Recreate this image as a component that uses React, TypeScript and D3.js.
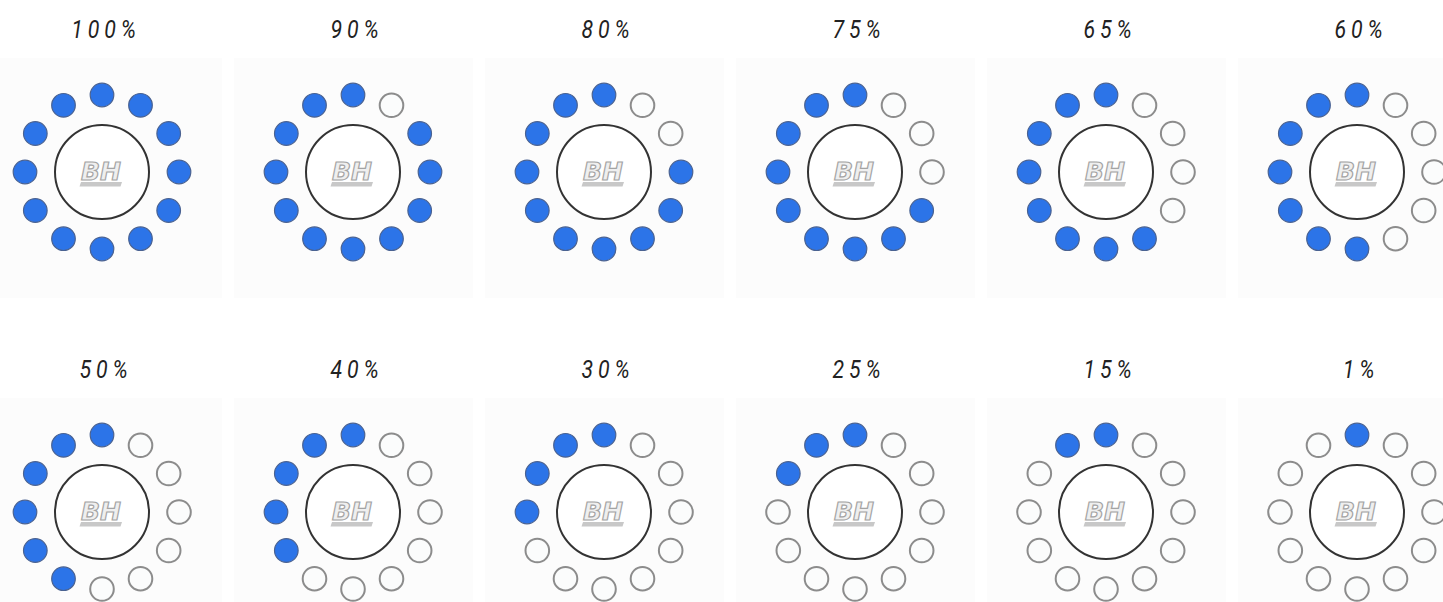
import * as d3 from "d3";

const labels = ["100%", "90%", "80%", "75%", "65%", "60%", "50%", "40%", "30%", "25%", "15%", "1%"];
const filledDots = [12, 11, 10, 9, 8, 7, 6, 5, 4, 3, 2, 1];
const columns = 6;

const width = 1443;
const height = 602;
const ringRadius = 77;
const dotRadius = 11.8;
const hubRadius = 47;
const blue = "#2c74e8";

const xScale = d3
  .scalePoint<number>()
  .domain(d3.range(columns))
  .range([102, 1357]);

const yScale = d3.scalePoint<number>().domain([0, 1]).range([172, 512]);

// hour 0 is 12 o'clock; filling goes counter-clockwise (12, 11, 10, ...)
const angle = d3.scaleLinear().domain([0, 12]).range([0, 2 * Math.PI]);
const hours = d3.range(12);

function isFilled(hour: number, n: number) {
  if (hour === 0) return n >= 1;
  return hour >= 12 - (n - 1);
}

function Logo() {
  return (
    <g>
      <path d="M-21,10 L20,10 L18.5,14.5 L-22.5,14.5 Z" fill="#c8c8c8" />
      <text
        x={-1}
        y={8}
        textAnchor="middle"
        fontFamily="DejaVu Sans"
        fontWeight="bold"
        fontStyle="italic"
        fontSize={25}
        fill="#efefef"
        stroke="#a4a4a4"
        strokeWidth={1.2}
      >
        BH
      </text>
    </g>
  );
}

function Gauge({ label, n, cx, cy }: { label: string; n: number; cx: number; cy: number }) {
  return (
    <g>
      <rect x={cx - 119} y={cy - 114} width={239} height={240} fill="#fcfcfc" />
      <g transform={`translate(${cx + 4},${cy - 134}) scale(0.82,1)`}>
        <text
          textAnchor="middle"
          fontFamily="Roboto"
          fontStyle="italic"
          fontSize={26}
          letterSpacing={6}
          fill="#222"
        >
          {label}
        </text>
      </g>
      <g transform={`translate(${cx},${cy})`}>
        <circle r={hubRadius} fill="#fff" stroke="#333" strokeWidth={2} />
        <Logo />
        {hours.map((h) => {
          const filled = isFilled(h, n);
          return (
            <circle
              key={h}
              cx={ringRadius * Math.sin(angle(h))}
              cy={-ringRadius * Math.cos(angle(h))}
              r={dotRadius}
              fill={filled ? blue : "#fbfcfc"}
              stroke={filled ? "#4a6291" : "#8c8c8c"}
              strokeWidth={filled ? 1.2 : 2}
            />
          );
        })}
      </g>
    </g>
  );
}

export default function App() {
  return (
    <svg
      width={width}
      height={height}
      style={{ position: "absolute", left: 0, top: 0, background: "#fff" }}
    >
      {labels.map((label, i) => (
        <Gauge
          key={label}
          label={label}
          n={filledDots[i]}
          cx={xScale(i % columns)!}
          cy={yScale(Math.floor(i / columns))!}
        />
      ))}
    </svg>
  );
}
